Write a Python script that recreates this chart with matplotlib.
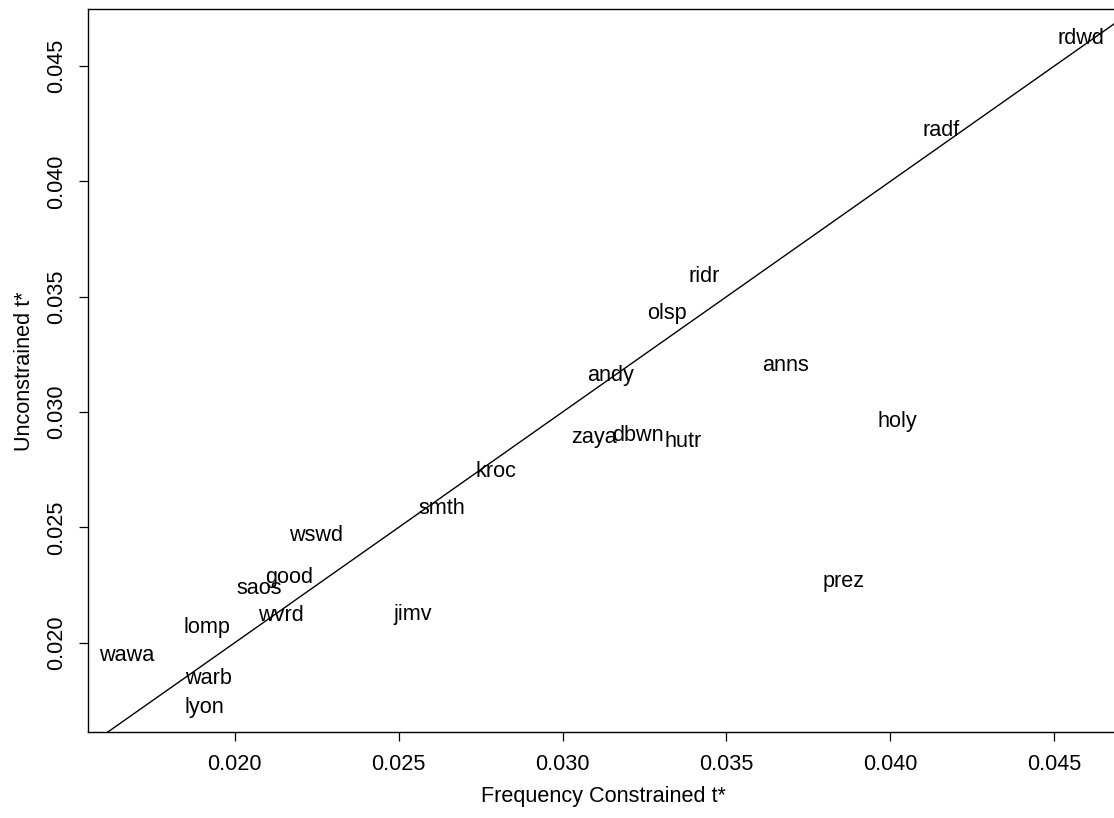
import numpy as np
import matplotlib
matplotlib.use("Agg")
import matplotlib.pyplot as plt

plt.rcParams["font.family"] = ["Liberation Sans", "DejaVu Sans"]

# station codes and their t* estimates
stations = ["rdwd", "radf", "ridr", "olsp", "andy", "anns", "holy", "zaya",
            "dbwn", "hutr", "kroc", "smth", "wswd", "good", "saos", "prez",
            "wvrd", "jimv", "lomp", "wawa", "warb", "lyon"]
freq_tstar = [0.04581, 0.04155, 0.03432, 0.03319, 0.03145, 0.03679, 0.04020,
              0.03097, 0.03231, 0.03368, 0.02798, 0.02633, 0.02249, 0.02167,
              0.02075, 0.03856, 0.02142, 0.02542, 0.01914, 0.01670, 0.01920,
              0.01908]
unc_tstar = [0.04630, 0.04230, 0.03600, 0.03439, 0.03170, 0.03213, 0.02970,
             0.02901, 0.02909, 0.02883, 0.02753, 0.02592, 0.02475, 0.02292,
             0.02245, 0.02275, 0.02127, 0.02132, 0.02075, 0.01954, 0.01854,
             0.01728]
x_ticks = [0.020, 0.025, 0.030, 0.035, 0.040, 0.045]
y_ticks = [0.020, 0.025, 0.030, 0.035, 0.040, 0.045]

FS = 15.6


def r_limits(vals):
    # R style 4% padding around the data range
    lo, hi = min(vals), max(vals)
    pad = 0.04 * (hi - lo)
    return lo - pad, hi + pad


def main():
    fig = plt.figure(figsize=(11.14, 8.18), dpi=100)
    ax = fig.add_axes([0.0793, 0.1048, 0.9252, 0.8839])

    for name, xv, yv in zip(stations, freq_tstar, unc_tstar):
        ax.text(xv, yv, name, ha="center", va="center_baseline", fontsize=FS)

    ax.axline((0.02, 0.02), slope=1, color="black", lw=1.0)

    ax.set_xlim(*r_limits(freq_tstar))
    ax.set_ylim(*r_limits(unc_tstar))
    ax.set_xticks(x_ticks)
    ax.set_yticks(y_ticks)
    ax.set_xticklabels(["%.3f" % t for t in x_ticks])
    ax.set_yticklabels(["%.3f" % t for t in y_ticks], rotation=90, va="center")

    ax.tick_params(direction="out", length=6.5, width=0.9, labelsize=FS)
    ax.tick_params(axis="x", pad=9)
    ax.tick_params(axis="y", pad=9)
    for sp in ax.spines.values():
        sp.set_linewidth(1.0)

    ax.set_xlabel("Frequency Constrained t*", fontsize=FS, labelpad=8)
    ax.set_ylabel("Unconstrained t*", fontsize=FS, labelpad=8)

    fig.savefig("out.png", dpi=100)


if __name__ == "__main__":
    main()
